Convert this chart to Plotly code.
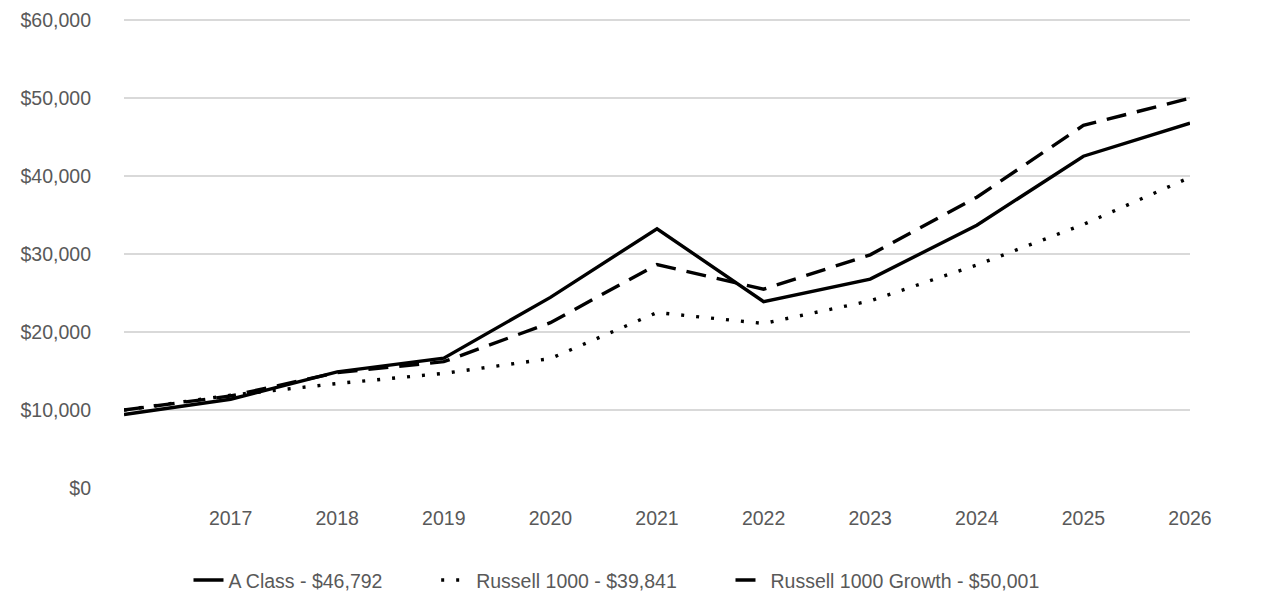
import plotly.graph_objects as go

years = [2016, 2017, 2018, 2019, 2020, 2021, 2022, 2023, 2024, 2025, 2026]
tick_years = [2017, 2018, 2019, 2020, 2021, 2022, 2023, 2024, 2025, 2026]

a_class = [9425, 11380, 14900, 16650, 24450, 33250, 23900, 26800, 33700, 42550, 46792]
russell_1000 = [10000, 11900, 13400, 14700, 16600, 22500, 21100, 24000, 28600, 33800, 39841]
russell_1000_growth = [10000, 11800, 14800, 16200, 21200, 28660, 25500, 29900, 37300, 46500, 50001]

names = ["A Class - $46,792", "Russell 1000 - $39,841", "Russell 1000 Growth - $50,001"]
# trailing no-break spaces widen the gaps between legend entries
pad = ["\u00a0" * 9, "\u00a0" * 9, ""]

fig = go.Figure()
fig.add_trace(go.Scatter(x=years, y=a_class, name=names[0] + pad[0], mode="lines",
                         line=dict(color="black", width=3.4, dash="solid")))
fig.add_trace(go.Scatter(x=years, y=russell_1000, name=names[1] + pad[1], mode="lines",
                         line=dict(color="black", width=3.4, dash="3px,12px")))
fig.add_trace(go.Scatter(x=years, y=russell_1000_growth, name=names[2] + pad[2], mode="lines",
                         line=dict(color="black", width=3.4, dash="20px,11px")))

# page body adds 8px around the plot, margins account for it
fig.update_layout(
    width=1286, height=614,
    margin=dict(l=116, r=104, t=11, b=134),
    paper_bgcolor="white", plot_bgcolor="white",
    font=dict(family="Liberation Sans, Arial, sans-serif", size=19.5, color="#595959"),
    showlegend=True,
    legend=dict(orientation="h", x=0.0605, xanchor="left", y=-0.197, yanchor="middle",
                font=dict(size=19.5, color="#595959"), tracegroupgap=0),
)
fig.update_xaxes(range=[2016, 2026], tickvals=tick_years, ticktext=[str(y) for y in tick_years],
                 showgrid=False, zeroline=False, showline=False, ticks="",
                 ticklabelstandoff=16, automargin=False)
fig.update_yaxes(range=[0, 60150], dtick=10000, tickprefix="$", tickformat=",",
                 showgrid=True, gridcolor="#d9d9d9", gridwidth=2, zeroline=False,
                 showline=False, ticks="", ticklabelstandoff=32, automargin=False,
                 ticklabeloverflow="allow")

fig.write_html("out.html")
